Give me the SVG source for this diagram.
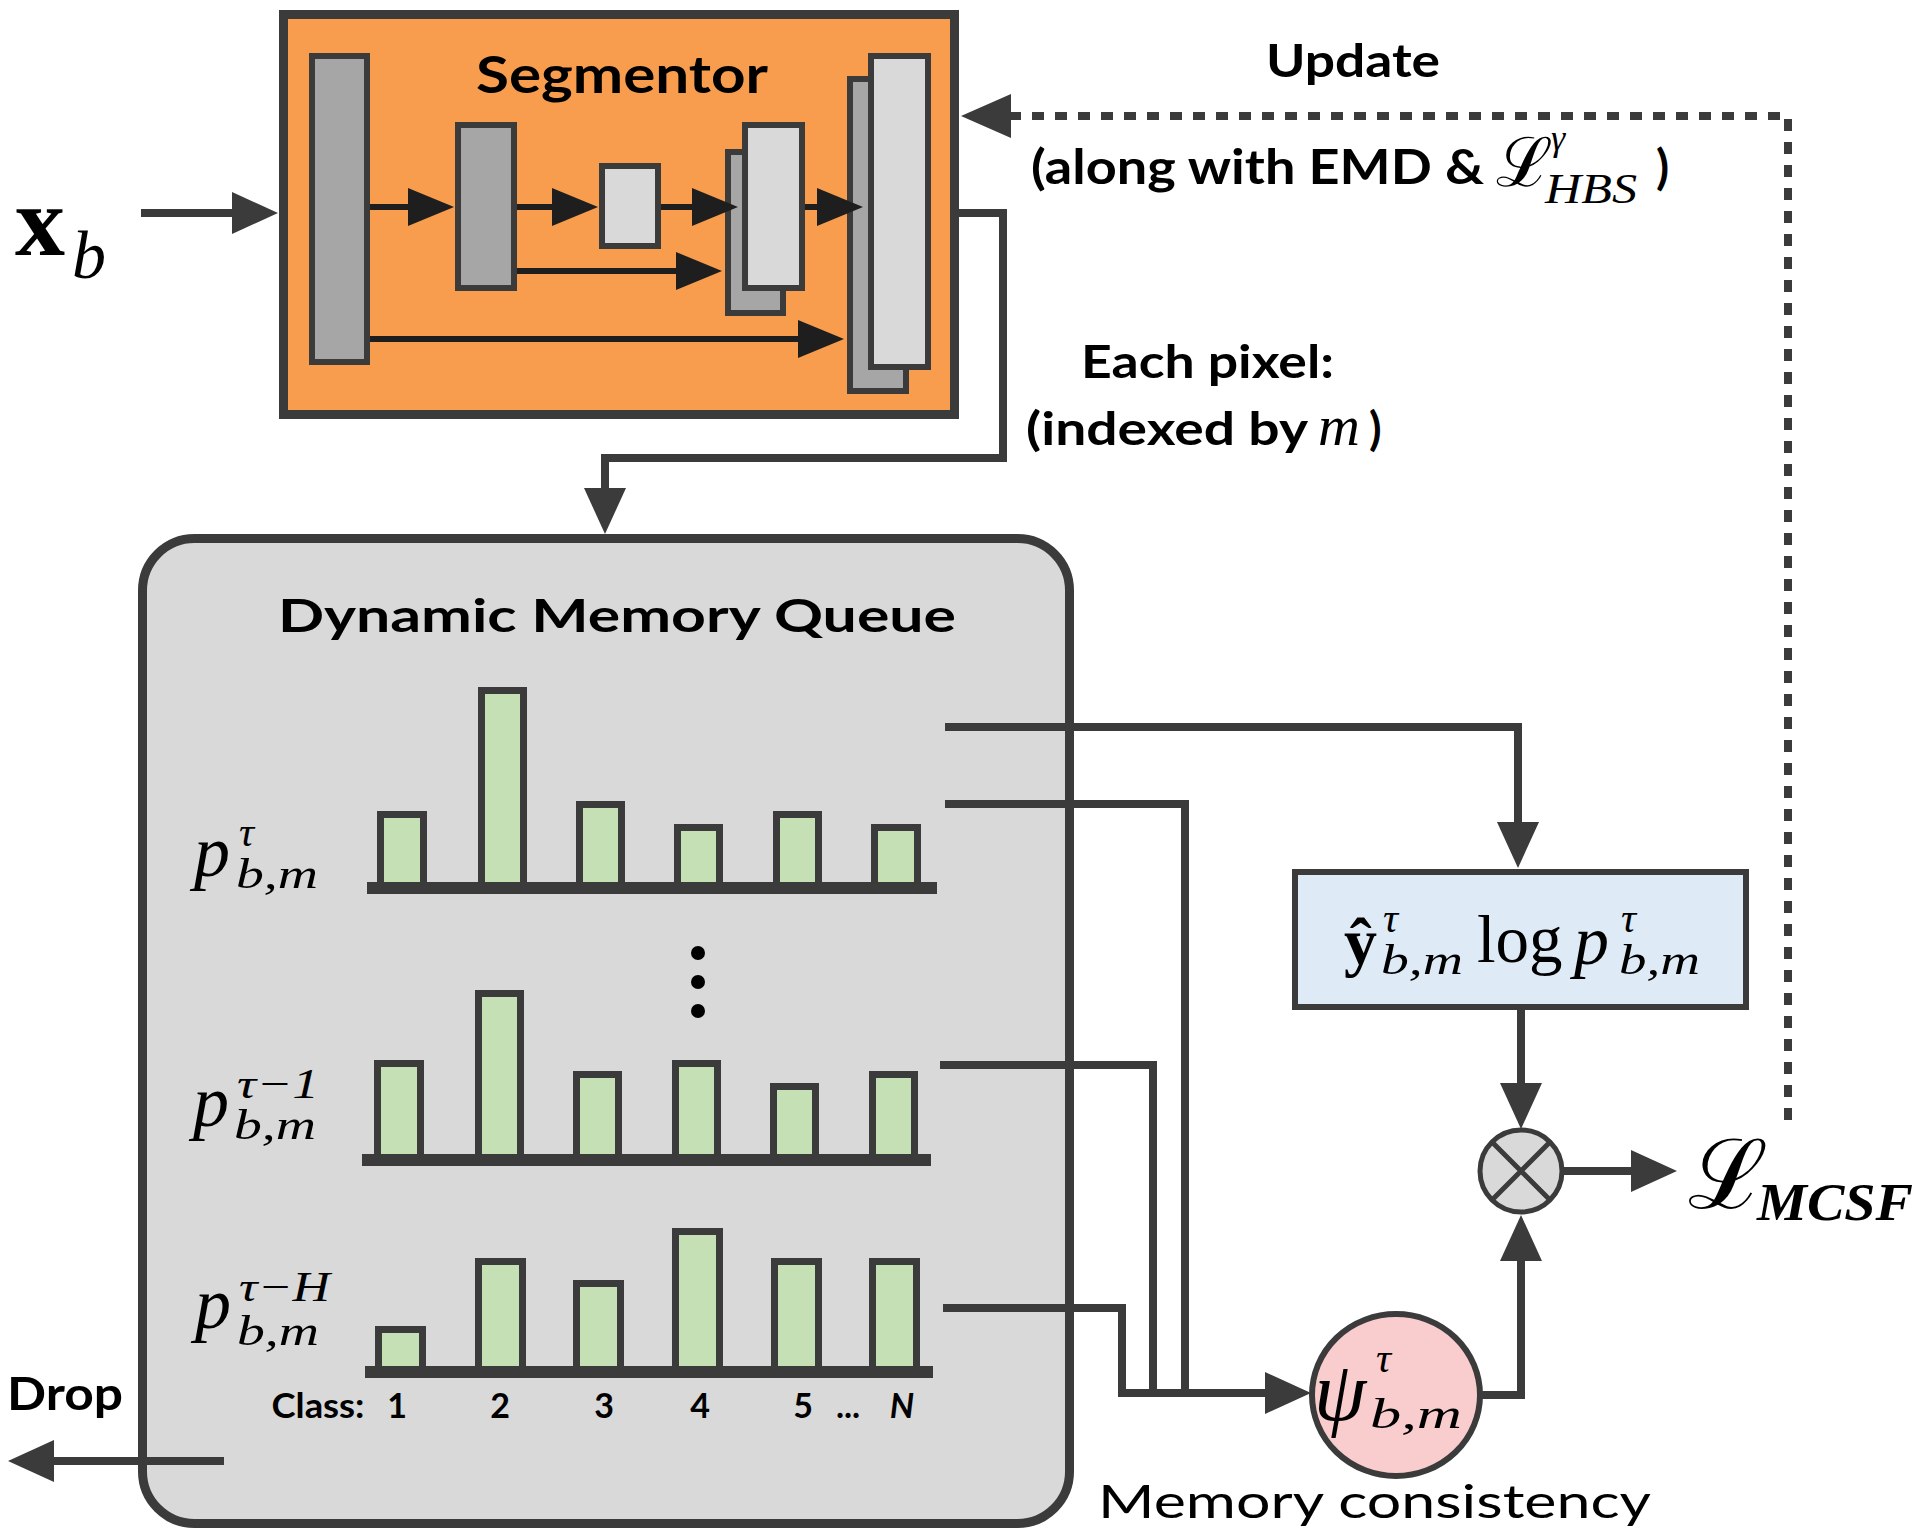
<svg xmlns="http://www.w3.org/2000/svg" width="1920" height="1540" viewBox="0 0 1920 1540">
<defs>
<marker id="mkS" markerUnits="userSpaceOnUse" viewBox="0 0 46 38" markerWidth="46" markerHeight="38" refX="1" refY="19" orient="auto"><path d="M0,0 L46,19 L0,38 Z" fill="#1E1E1E"/></marker>
<marker id="mkA" markerUnits="userSpaceOnUse" viewBox="0 0 46 42" markerWidth="46" markerHeight="42" refX="1" refY="21" orient="auto"><path d="M0,0 L46,21 L0,42 Z" fill="#3B3B3B"/></marker>
<marker id="mkU" markerUnits="userSpaceOnUse" viewBox="0 0 50 44" markerWidth="50" markerHeight="44" refX="1" refY="22" orient="auto"><path d="M0,0 L50,22 L0,44 Z" fill="#3B3B3B"/></marker>
</defs>
<style>
.sans{font-family:Lato,'Open Sans','Liberation Sans',sans-serif;fill:#000}
.b{font-weight:700}
.math{font-family:'Liberation Serif','Times New Roman',serif;font-style:italic;fill:#000}
.up{font-style:normal}
.scr{font-family:'DejaVu Serif',serif;fill:#000}
.blkD{fill:#A6A6A6;stroke:#3B3B3B;stroke-width:6}
.blkL{fill:#D9D9D9;stroke:#3B3B3B;stroke-width:6}
.bar{fill:#C5E0B4;stroke:#3B3B3B;stroke-width:7}
.axis{fill:#3B3B3B}
.conn{fill:none;stroke:#3B3B3B;stroke-width:8}
.inner{fill:none;stroke:#1E1E1E;stroke-width:6}
</style>
<rect width="1920" height="1540" fill="#FFFFFF"/>

<g id="input-xb">
<text class="math up b" x="15" y="255" font-size="100" font-weight="700">x</text>
<text class="math" x="72" y="278" font-size="68">b</text>
</g>

<g id="segmentor">
<rect x="283.5" y="14.5" width="671" height="400" fill="#F89C4D" stroke="#3B3B3B" stroke-width="9"/>
<text class="sans b" x="476" y="93" font-size="51" textLength="292" lengthAdjust="spacingAndGlyphs">Segmentor</text>
<rect class="blkD" x="312" y="56" width="55" height="306"/>
<rect class="blkD" x="458" y="125" width="56" height="163"/>
<rect class="blkL" x="602" y="166" width="56" height="80"/>
<rect class="blkD" x="728" y="152" width="55" height="161"/>
<rect class="blkL" x="745" y="125" width="57" height="163"/>
<rect class="blkD" x="850" y="79" width="56" height="312"/>
<rect class="blkL" x="871" y="56" width="57" height="311"/>
<g id="segmentor-arrows">
<path class="inner" d="M370,207 H409" marker-end="url(#mkS)"/>
<path class="inner" d="M517,207 H553" marker-end="url(#mkS)"/>
<path class="inner" d="M661,207 H693" marker-end="url(#mkS)"/>
<path class="inner" d="M805,207 H818" marker-end="url(#mkS)"/>
<path class="inner" d="M517,271 H677" marker-end="url(#mkS)"/>
<path class="inner" d="M370,339 H799" marker-end="url(#mkS)"/>
</g>
</g>

<g id="queue">
<rect x="142.5" y="538.5" width="927" height="985" rx="52" fill="#D9D9D9" stroke="#3B3B3B" stroke-width="9"/>
<text class="sans b" x="278" y="632" font-size="46" textLength="678" lengthAdjust="spacingAndGlyphs">Dynamic Memory Queue</text>
<g id="hist-t">
<rect class="bar" x="380.5" y="814.5" width="43" height="73.5"/>
<rect class="bar" x="481.5" y="690.5" width="42" height="197.5"/>
<rect class="bar" x="579.5" y="804.5" width="42" height="83.5"/>
<rect class="bar" x="677.5" y="827.5" width="42" height="60.5"/>
<rect class="bar" x="776.5" y="814.5" width="42" height="73.5"/>
<rect class="bar" x="874.5" y="827.5" width="43" height="60.5"/>
<rect class="axis" x="367" y="882" width="570" height="12"/>
<text class="math" x="194" y="876" font-size="72">p</text>
<text class="math" x="239" y="846" font-size="42">τ</text>
<text class="math" x="236" y="888" font-size="42" textLength="82" lengthAdjust="spacingAndGlyphs">b,m</text>
</g>
<g id="dots">
<circle cx="698" cy="953" r="7" fill="#000"/>
<circle cx="698" cy="982" r="7" fill="#000"/>
<circle cx="698" cy="1011" r="7" fill="#000"/>
</g>
<g id="hist-t1">
<rect class="bar" x="377.5" y="1063.5" width="43" height="96.5"/>
<rect class="bar" x="478.5" y="993.5" width="42" height="166.5"/>
<rect class="bar" x="576.5" y="1074.5" width="42" height="85.5"/>
<rect class="bar" x="675.5" y="1063.5" width="42" height="96.5"/>
<rect class="bar" x="773.5" y="1086.5" width="42" height="73.5"/>
<rect class="bar" x="872.5" y="1074.5" width="42" height="85.5"/>
<rect class="axis" x="362" y="1154" width="569" height="12"/>
<text class="math" x="193" y="1126" font-size="72">p</text>
<text class="math" x="237" y="1098" font-size="42" textLength="82" lengthAdjust="spacingAndGlyphs">τ−1</text>
<text class="math" x="234" y="1139" font-size="42" textLength="82" lengthAdjust="spacingAndGlyphs">b,m</text>
</g>
<g id="hist-tH">
<rect class="bar" x="378.5" y="1329.5" width="44" height="42.5"/>
<rect class="bar" x="478.5" y="1261.5" width="44" height="110.5"/>
<rect class="bar" x="576.5" y="1283.5" width="44" height="88.5"/>
<rect class="bar" x="675.5" y="1231.5" width="44" height="140.5"/>
<rect class="bar" x="774.5" y="1261.5" width="44" height="110.5"/>
<rect class="bar" x="872.5" y="1261.5" width="44" height="110.5"/>
<rect class="axis" x="365" y="1366" width="568" height="12"/>
<text class="math" x="195" y="1328" font-size="72">p</text>
<text class="math" x="239" y="1301" font-size="42" textLength="91" lengthAdjust="spacingAndGlyphs">τ−H</text>
<text class="math" x="237" y="1345" font-size="42" textLength="82" lengthAdjust="spacingAndGlyphs">b,m</text>
</g>
<g id="class-labels" class="sans b" font-size="34" text-anchor="middle">
<text x="318" y="1418" textLength="93" lengthAdjust="spacingAndGlyphs">Class:</text>
<text x="397" y="1418">1</text>
<text x="500" y="1418">2</text>
<text x="604" y="1418">3</text>
<text x="700" y="1418">4</text>
<text x="803" y="1418">5</text>
<text x="848" y="1418">...</text>
<text x="902" y="1418" font-style="italic">N</text>
</g>
</g>

<g id="drop">
<text class="sans b" x="7" y="1410" font-size="46" textLength="116" lengthAdjust="spacingAndGlyphs">Drop</text>
</g>

<g id="formula-box">
<rect x="1295" y="872" width="451" height="135" fill="#DEEBF7" stroke="#3B3B3B" stroke-width="6"/>
<text class="math up" x="1344" y="964" font-size="66" font-weight="700">ŷ</text>
<text class="math" x="1383" y="932" font-size="42">τ</text>
<text class="math" x="1381" y="974" font-size="42" textLength="82" lengthAdjust="spacingAndGlyphs">b,m</text>
<text class="math up" x="1477" y="962" font-size="67">log</text>
<text class="math" x="1574" y="964" font-size="70">p</text>
<text class="math" x="1621" y="932" font-size="42">τ</text>
<text class="math" x="1619" y="974" font-size="42" textLength="81" lengthAdjust="spacingAndGlyphs">b,m</text>
</g>

<g id="multiply">
<circle cx="1521" cy="1171" r="41" fill="#D9D9D9" stroke="#3B3B3B" stroke-width="5"/>
<path d="M1492,1142 L1550,1200 M1550,1142 L1492,1200" stroke="#3B3B3B" stroke-width="5"/>
</g>

<g id="psi">
<ellipse cx="1396" cy="1395" rx="84" ry="81" fill="#F9CDCD" stroke="#3B3B3B" stroke-width="6"/>
<text class="math" x="1314" y="1420" font-size="84">ψ</text>
<text class="math" x="1376" y="1372" font-size="42">τ</text>
<text class="math" x="1370" y="1428" font-size="42" textLength="92" lengthAdjust="spacingAndGlyphs">b,m</text>
<text class="sans" x="1098" y="1518" font-size="47" textLength="553" lengthAdjust="spacingAndGlyphs">Memory consistency</text>
</g>

<g id="loss">
<text class="scr" x="1688" y="1208" font-size="96">ℒ</text>
<text class="math b" x="1757" y="1220" font-size="52" font-weight="700" textLength="156" lengthAdjust="spacingAndGlyphs">MCSF</text>
</g>

<g id="labels">
<text class="sans b" x="1266" y="77" font-size="45" textLength="174" lengthAdjust="spacingAndGlyphs">Update</text>
<text class="sans b" x="1031" y="184" font-size="48" textLength="453" lengthAdjust="spacingAndGlyphs">(along with EMD &amp;</text>
<text class="scr" x="1496" y="186" font-size="68">ℒ</text>
<text class="math" x="1551" y="150" font-size="36">γ</text>
<text class="math" x="1545" y="203" font-size="42" textLength="92" lengthAdjust="spacingAndGlyphs">HBS</text>
<text class="sans b" x="1656" y="184" font-size="48">)</text>
<text class="sans b" x="1081" y="378" font-size="46" textLength="253" lengthAdjust="spacingAndGlyphs">Each pixel:</text>
<text class="sans b" x="1026" y="445" font-size="46" textLength="282" lengthAdjust="spacingAndGlyphs">(indexed by</text>
<text class="math" x="1318" y="445" font-size="58">m</text>
<text class="sans b" x="1369" y="445" font-size="46">)</text>
</g>

<g id="connectors">
<path class="conn" d="M141,213 H233" stroke-width="10" marker-end="url(#mkA)"/>
<path class="conn" d="M959,213 H1003 V458 H605 V489" marker-end="url(#mkA)"/>
<path class="conn" d="M1788,1120 V116 H1010" stroke-width="10" stroke-dasharray="12 11" marker-end="url(#mkU)"/>
<path class="conn" d="M945,727 H1518 V823" marker-end="url(#mkA)"/>
<path class="conn" d="M945,804 H1185 V1393"/>
<path class="conn" d="M940,1065 H1153 V1393"/>
<path class="conn" d="M943,1308 H1122 V1393 H1266" marker-end="url(#mkA)"/>
<path class="conn" d="M1480,1395 H1521 V1260" marker-end="url(#mkA)"/>
<path class="conn" d="M1521,1007 V1084" marker-end="url(#mkA)"/>
<path class="conn" d="M1562,1171 H1632" marker-end="url(#mkA)"/>
<path class="conn" d="M224,1461 H53" stroke-width="10" marker-end="url(#mkA)"/>
</g>
</svg>
